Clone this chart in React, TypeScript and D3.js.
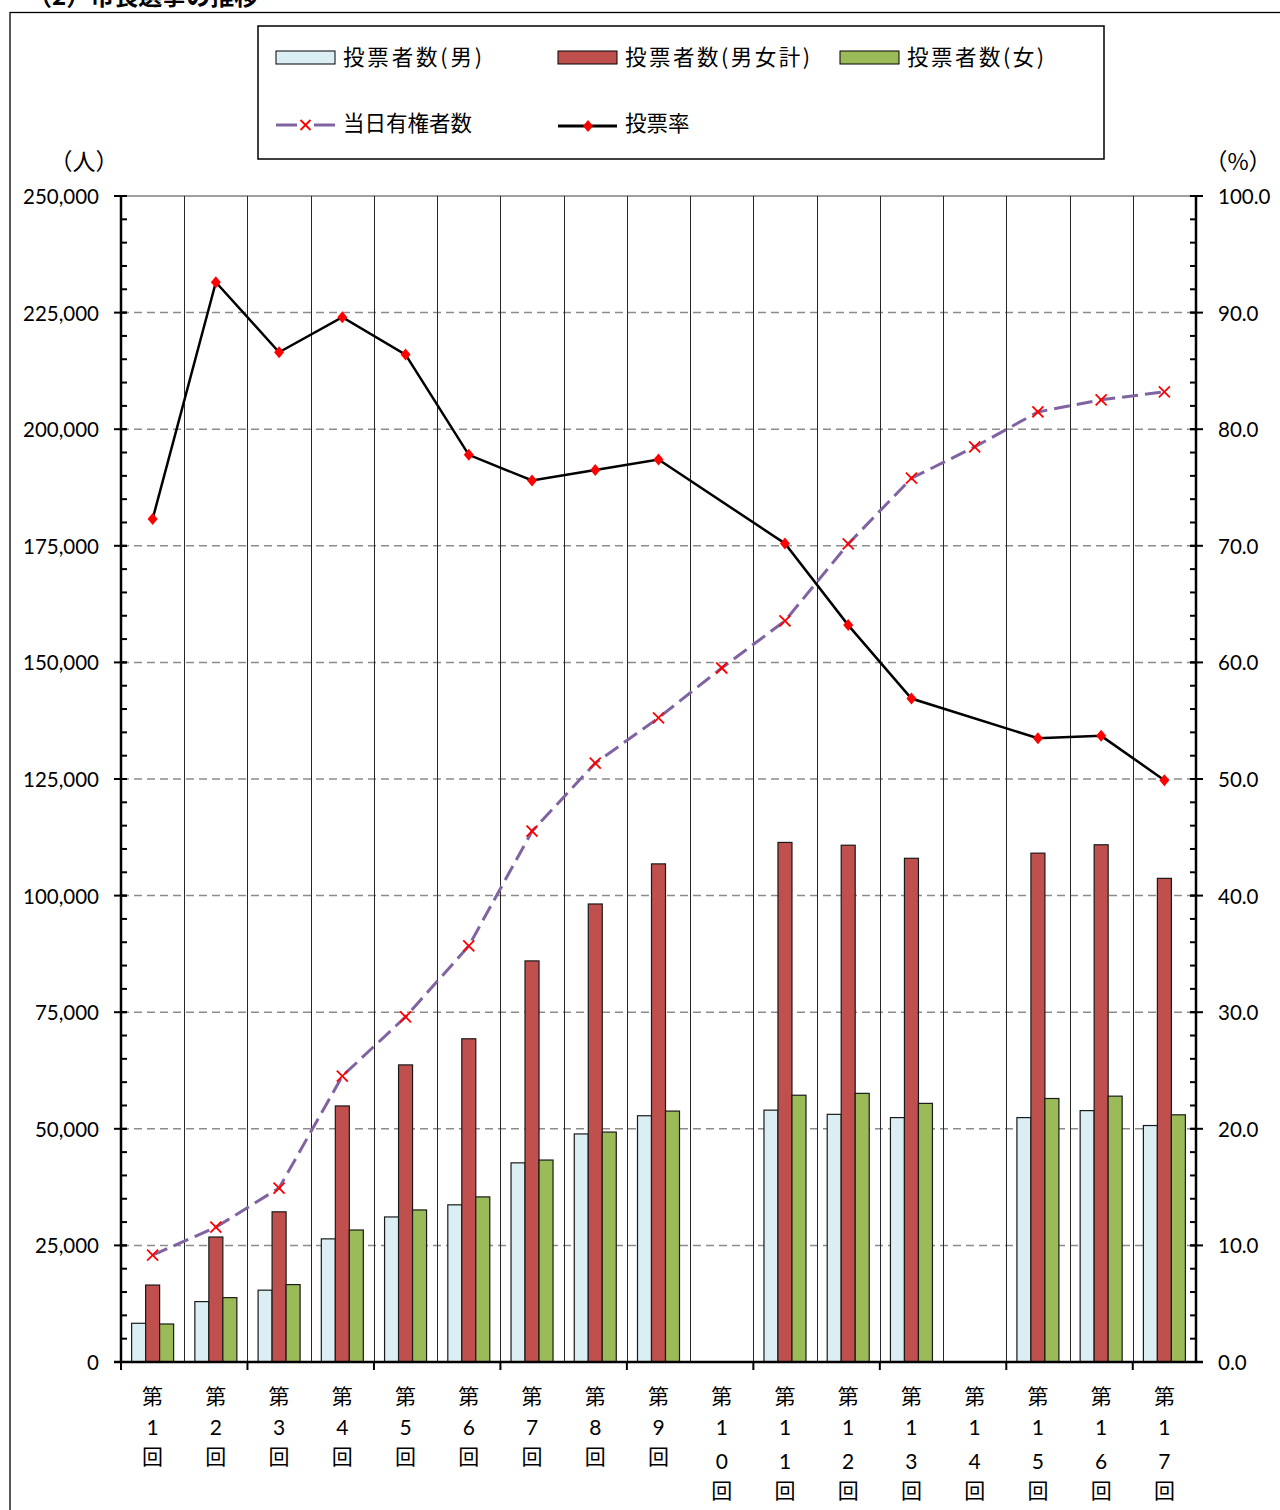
import React from 'react';
import * as d3 from 'd3';

const categories = ['1', '2', '3', '4', '5', '6', '7', '8', '9', '10', '11', '12', '13', '14', '15', '16', '17'];
const maleVoters: (number | null)[] = [8300, 12950, 15400, 26400, 31100, 33700, 42700, 48900, 52800, null, 54000, 53100, 52400, null, 52400, 53900, 50700];
const totalVoters: (number | null)[] = [16500, 26800, 32200, 54900, 63700, 69300, 86000, 98200, 106800, null, 111400, 110800, 108000, null, 109100, 110900, 103700];
const femaleVoters: (number | null)[] = [8150, 13800, 16600, 28300, 32600, 35400, 43300, 49300, 53800, null, 57200, 57600, 55450, null, 56500, 57000, 53000];
const electorate: number[] = [22900, 28900, 37300, 61300, 74000, 89200, 113800, 128400, 138100, 148800, 158900, 175400, 189500, 196200, 203700, 206300, 208000];
const turnout: (number | null)[] = [72.3, 92.6, 86.6, 89.6, 86.4, 77.8, 75.6, 76.5, 77.4, null, 70.2, 63.2, 56.9, null, 53.5, 53.7, 49.9];

const leftTicks = d3.range(0, 250001, 25000);
const rightTicks = d3.range(0, 100.01, 10);
const leftMinor = d3.range(0, 250001, 5000);
const rightMinor = d3.range(0, 100.01, 2);

const seriesKeys = ['male', 'total', 'female'];
const seriesColors: Record<string, string> = { male: '#DAEEF3', total: '#C0504D', female: '#9BBB59' };
const seriesData: Record<string, (number | null)[]> = { male: maleVoters, total: totalVoters, female: femaleVoters };

const JP = "'Noto Sans CJK JP', sans-serif";
const NUM = "Lato, 'Noto Sans CJK JP', sans-serif";

const PL = 121, PR = 1196, PT = 196, PB = 1362;

export default function App() {
  const x = d3.scaleBand<string>().domain(categories).range([PL, PR]).paddingInner(0).paddingOuter(0);
  const bw = x.bandwidth();
  const groupW = 42;
  const xi = d3.scaleBand<string>().domain(seriesKeys).range([0, groupW]);
  const yL = d3.scaleLinear().domain([0, 250000]).range([PB, PT]);
  const yR = d3.scaleLinear().domain([0, 100]).range([PB, PT]);
  const cx = (i: number) => (x(categories[i]) as number) + bw / 2;

  const elecLine = d3.line<number>().x((_, i) => cx(i)).y((d) => yL(d))(electorate) as string;
  const turnPts = turnout.map((v, i) => ({ v, i })).filter((p) => p.v !== null) as { v: number; i: number }[];
  const turnLine = d3.line<{ v: number; i: number }>().x((p) => cx(p.i)).y((p) => yR(p.v))(turnPts) as string;

  const fmtL = d3.format(',');
  const fmtR = d3.format('.1f');

  const xMark = (px: number, py: number, s: number, key: string) => (
    <g key={key} stroke="#FF0000" strokeWidth={1.8}>
      <line x1={px - s} y1={py - s} x2={px + s} y2={py + s} />
      <line x1={px - s} y1={py + s} x2={px + s} y2={py - s} />
    </g>
  );
  const diamond = (px: number, py: number, key: string) => (
    <path key={key} d={`M${px},${py - 6}L${px + 5},${py}L${px},${py + 6}L${px - 5},${py}Z`} fill="#FF0000" />
  );

  return (
    <svg width={1280} height={1510} style={{ position: 'absolute', left: 0, top: 0, display: 'block', background: '#fff' }}>
      <rect x={0} y={0} width={1280} height={1510} fill="#fff" />
      {/* title, cut off at top as in the reference */}
      <text x={28} y={5} fontFamily={JP} fontWeight={700} fontSize={24} fill="#000">（2）市長選挙の推移</text>
      {/* outer frame */}
      <rect x={10} y={12.5} width={1290} height={1520} fill="none" stroke="#000" strokeWidth={1.3} />

      {/* legend */}
      <rect x={258} y={26} width={846} height={133} fill="#fff" stroke="#000" strokeWidth={1.5} />
      {[
        { key: 'male', x0: 276, label: '投票者数(男)', tl: 139 },
        { key: 'total', x0: 558, label: '投票者数(男女計)', tl: 185 },
        { key: 'female', x0: 840, label: '投票者数(女)', tl: 137 },
      ].map((l) => (
        <g key={l.key}>
          <rect x={l.x0} y={51} width={59} height={13} fill={seriesColors[l.key]} stroke="#000" strokeWidth={1} />
          <text x={l.x0 + 67} y={55} dominantBaseline="central" fontFamily={JP} fontSize={21.5} textLength={l.tl} lengthAdjust="spacing" fill="#000">{l.label}</text>
        </g>
      ))}
      <line x1={276} y1={125} x2={297} y2={125} stroke="#8064A2" strokeWidth={3} />
      <line x1={314} y1={125} x2={335} y2={125} stroke="#8064A2" strokeWidth={3} />
      {xMark(305.5, 125, 5, 'lgx')}
      <text x={343} y={121} dominantBaseline="central" fontFamily={JP} fontSize={21.5} fill="#000">当日有権者数</text>
      <line x1={558} y1={126} x2={617} y2={126} stroke="#000" strokeWidth={3} />
      {diamond(588, 126, 'lgd')}
      <text x={625} y={121} dominantBaseline="central" fontFamily={JP} fontSize={21.5} fill="#000">投票率</text>

      {/* units */}
      <text x={84} y={160} textAnchor="middle" dominantBaseline="central" fontFamily={JP} fontSize={23} fill="#000">（人）</text>
      <text x={1238} y={160} textAnchor="middle" dominantBaseline="central" fontFamily={JP} fontSize={23} fill="#000">（%）</text>

      {/* horizontal dashed gridlines */}
      {leftTicks.filter((t) => t > 0 && t < 250000).map((t) => (
        <line key={'hg' + t} x1={PL} x2={PR} y1={yL(t)} y2={yL(t)} stroke="#8C8C8C" strokeWidth={1.5} strokeDasharray="8,5" />
      ))}
      {/* top border */}
      <line x1={PL} x2={PR} y1={PT} y2={PT} stroke="#404040" strokeWidth={1} />
      {/* vertical gridlines */}
      {categories.slice(1).map((c) => {
        const gx = Math.round(x(c) as number) + 0.5;
        return <line key={'vg' + c} x1={gx} x2={gx} y1={PT} y2={PB} stroke="#262626" strokeWidth={1} />;
      })}

      {/* bars */}
      {categories.map((c, i) => (
        <g key={'bars' + c}>
          {seriesKeys.map((k) => {
            const v = seriesData[k][i];
            if (v === null) return null;
            const bx = (x(c) as number) + (bw - groupW) / 2 + (xi(k) as number);
            return (
              <rect key={k} x={bx} y={yL(v)} width={xi.bandwidth()} height={PB - yL(v)} fill={seriesColors[k]} stroke="#1a1a1a" strokeWidth={1.2} />
            );
          })}
        </g>
      ))}

      {/* electorate line */}
      <path d={elecLine} fill="none" stroke="#8064A2" strokeWidth={3} strokeDasharray="16,7" />
      {electorate.map((v, i) => xMark(cx(i), yL(v), 5.5, 'ex' + i))}

      {/* turnout line */}
      <path d={turnLine} fill="none" stroke="#000" strokeWidth={2.5} />
      {turnPts.map((p) => diamond(cx(p.i), yR(p.v), 'td' + p.i))}

      {/* left axis */}
      <line x1={PL} x2={PL} y1={PT - 1} y2={PB + 1} stroke="#000" strokeWidth={2.5} />
      {leftMinor.map((t) => (
        <line key={'lm' + t} x1={PL} x2={PL + 6} y1={yL(t)} y2={yL(t)} stroke="#000" strokeWidth={2} />
      ))}
      {leftTicks.map((t) => (
        <g key={'lt' + t}>
          <line x1={PL - 7} x2={PL + 6} y1={yL(t)} y2={yL(t)} stroke="#000" strokeWidth={2} />
          <text x={99} y={yL(t)} textAnchor="end" dominantBaseline="central" fontFamily={NUM} fontSize={20.5} fill="#000">{fmtL(t)}</text>
        </g>
      ))}

      {/* right axis */}
      <line x1={PR} x2={PR} y1={PT - 1} y2={PB + 1} stroke="#000" strokeWidth={2.5} />
      {rightMinor.map((t) => (
        <line key={'rm' + t} x1={PR - 6} x2={PR} y1={yR(t)} y2={yR(t)} stroke="#000" strokeWidth={2} />
      ))}
      {rightTicks.map((t) => (
        <g key={'rt' + t}>
          <line x1={PR - 6} x2={PR + 7} y1={yR(t)} y2={yR(t)} stroke="#000" strokeWidth={2} />
          <text x={1218} y={yR(t)} textAnchor="start" dominantBaseline="central" fontFamily={NUM} fontSize={20.5} fill="#000">{fmtR(t)}</text>
        </g>
      ))}

      {/* bottom axis */}
      <line x1={PL - 7} x2={PR + 7} y1={PB} y2={PB} stroke="#000" strokeWidth={2.5} />
      {categories.filter((_, i) => i % 2 === 0).map((c) => (
        <line key={'bt' + c} x1={x(c) as number} x2={x(c) as number} y1={PB} y2={PB + 8} stroke="#000" strokeWidth={2} />
      ))}
      {categories.map((c, i) => {
        const chars = ['第', ...c.split(''), '回'];
        const ys = chars.length === 3 ? [1395, 1426, 1455] : [1395, 1426, 1460, 1489];
        return (
          <g key={'xl' + c}>
            {chars.map((ch, j) => (
              <text key={j} x={cx(i)} y={ys[j]} textAnchor="middle" dominantBaseline="central" fontFamily={NUM} fontSize={21} fill="#000">{ch}</text>
            ))}
          </g>
        );
      })}
    </svg>
  );
}
